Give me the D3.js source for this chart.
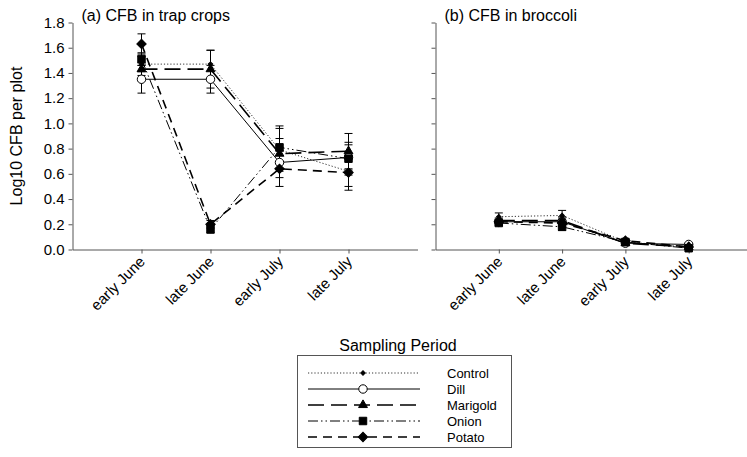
<!DOCTYPE html>
<html><head><meta charset="utf-8">
<script src="https://cdn.jsdelivr.net/npm/d3@7"></script>
<style>body{margin:0;background:#fff;}svg{display:block;font-family:Arial,"Liberation Sans",sans-serif;}</style>
</head><body><svg id="c" width="747" height="457"></svg>
<script>
const periods = ["early June", "late June", "early July", "late July"];
const seriesNames = ["Control", "Dill", "Marigold", "Onion", "Potato"];
const yTicks = [0.0, 0.2, 0.4, 0.6, 0.8, 1.0, 1.2, 1.4, 1.6, 1.8];

// (a) trap crops
const trapControl  = [1.47, 1.47, 0.79, 0.62];
const trapDill     = [1.35, 1.35, 0.69, 0.73];
const trapMarigold = [1.43, 1.43, 0.76, 0.78];
const trapOnion    = [1.51, 0.16, 0.81, 0.72];
const trapPotato   = [1.63, 0.20, 0.64, 0.61];
const trapControlErr  = [0.06, 0.11, 0.17, 0.12];
const trapDillErr     = [0.11, 0.11, 0.12, 0.10];
const trapMarigoldErr = [0.05, 0.15, 0.12, 0.14];
const trapOnionErr    = [0.05, 0.03, 0.17, 0.13];
const trapPotatoErr   = [0.08, 0.03, 0.14, 0.14];

// (b) broccoli
const brocControl  = [0.26, 0.27, 0.06, 0.02];
const brocDill     = [0.22, 0.22, 0.05, 0.04];
const brocMarigold = [0.23, 0.23, 0.05, 0.02];
const brocOnion    = [0.21, 0.18, 0.06, 0.01];
const brocPotato   = [0.22, 0.21, 0.07, 0.02];
const brocControlErr  = [0.03, 0.04, 0.01, 0.01];
const brocDillErr     = [0.02, 0.03, 0.01, 0.01];
const brocMarigoldErr = [0.02, 0.03, 0.01, 0.01];
const brocOnionErr    = [0.02, 0.03, 0.01, 0.01];
const brocPotatoErr   = [0.02, 0.03, 0.01, 0.01];

const styles = {
  Control:  {dash: "1.2,2", sym: d3.symbolSquare, size: 10, rot: 45, fill: "#000", width: 1, stroke: "#333"},
  Dill:     {dash: null, sym: d3.symbolCircle, size: 56, rot: 0, fill: "#fff", width: 1, stroke: "#000"},
  Marigold: {dash: "16,7", sym: d3.symbolTriangle, size: 34, rot: 0, fill: "#000", width: 1.6, stroke: "#000"},
  Onion:    {dash: "10,3,1.5,3,1.5,3", sym: d3.symbolSquare, size: 56, rot: 0, fill: "#000", width: 1, stroke: "#000"},
  Potato:   {dash: "9,6", sym: d3.symbolSquare, size: 44, rot: 45, fill: "#000", width: 1.6, stroke: "#000"}
};

const panels = [
  {title: "(a) CFB in trap crops", x0: 72.5, x1: 417.5, labels: true,
   data: [trapControl, trapDill, trapMarigold, trapOnion, trapPotato],
   err: [trapControlErr, trapDillErr, trapMarigoldErr, trapOnionErr, trapPotatoErr]},
  {title: "(b) CFB in broccoli", x0: 435.5, x1: 752, labels: false,
   data: [brocControl, brocDill, brocMarigold, brocOnion, brocPotato],
   err: [brocControlErr, brocDillErr, brocMarigoldErr, brocOnionErr, brocPotatoErr]}
];

const svg = d3.select("#c");
const yTop = 22.5, yBot = 249.5;
const y = d3.scaleLinear().domain([0, 1.8]).range([yBot, yTop]);
const axisColor = "#555";
const FONT = "Arial, 'Liberation Sans', sans-serif";

panels.forEach(p => {
  const x = d3.scaleLinear().domain([0, 5]).range([p.x0, p.x1]);
  const g = svg.append("g");
  const ya = g.append("g").attr("transform", `translate(${p.x0},0)`)
    .call(d3.axisLeft(y).tickValues(yTicks).tickSize(4).tickSizeOuter(0)
      .tickFormat(p.labels ? d3.format(".1f") : ""));
  ya.select(".domain").attr("stroke", axisColor);
  ya.selectAll(".tick line").attr("stroke", axisColor);
  ya.selectAll(".tick text").attr("font-size", 15).attr("fill", "#000").attr("font-family", FONT).attr("x", -8);
  const xa = g.append("g").attr("transform", `translate(0,${yBot})`)
    .call(d3.axisBottom(x).tickValues([1, 2, 3, 4]).tickSize(4).tickSizeOuter(0)
      .tickFormat(d => periods[d - 1]));
  xa.select(".domain").attr("stroke", axisColor);
  xa.selectAll(".tick line").attr("stroke", axisColor);
  xa.selectAll(".tick text").attr("font-size", 15).attr("fill", "#000")
    .attr("font-family", FONT)
    .attr("text-anchor", "end").attr("dy", null).attr("y", 0)
    .attr("transform", "translate(4,13) rotate(-45)");
  g.append("text").attr("x", p.x0 + 9).attr("y", 21).attr("font-size", 16).text(p.title);

  const line = d3.line().x((d, i) => x(i + 1)).y(d => y(d));
  seriesNames.forEach((name, si) => {
    const st = styles[name];
    const vals = p.data[si], errs = p.err[si];
    g.append("path").attr("d", line(vals)).attr("fill", "none")
      .attr("stroke", st.stroke).attr("stroke-width", st.width)
      .attr("stroke-dasharray", st.dash);
    vals.forEach((v, i) => {
      const cx = x(i + 1);
      const e = errs[i];
      g.append("line").attr("x1", cx).attr("x2", cx).attr("y1", y(v + e)).attr("y2", y(v - e)).attr("stroke", "#000").attr("stroke-width", 1);
      [v + e, v - e].forEach(ev => g.append("line").attr("x1", cx - 4).attr("x2", cx + 4).attr("y1", y(ev)).attr("y2", y(ev)).attr("stroke", "#000").attr("stroke-width", 1));
    });
  });
  seriesNames.forEach((name, si) => {
    const st = styles[name];
    p.data[si].forEach((v, i) => {
      g.append("path").attr("d", d3.symbol(st.sym, st.size)())
        .attr("transform", `translate(${x(i + 1)},${y(v)}) rotate(${st.rot})`)
        .attr("fill", st.fill).attr("stroke", "#000").attr("stroke-width", 1);
    });
  });
});

svg.append("text").attr("transform", "translate(22,136) rotate(-90)").attr("text-anchor", "middle")
  .attr("font-size", 16).text("Log10 CFB per plot");
svg.append("text").attr("x", 398).attr("y", 351).attr("text-anchor", "middle").attr("font-size", 16).text("Sampling Period");

const lg = svg.append("g");
lg.append("rect").attr("x", 297.5).attr("y", 355.5).attr("width", 214).attr("height", 92)
  .attr("fill", "#fff").attr("stroke", "#555").attr("stroke-width", 1);
seriesNames.forEach((name, i) => {
  const st = styles[name];
  const ly = 373 + i * 16;
  lg.append("line").attr("x1", 308).attr("x2", 420).attr("y1", ly).attr("y2", ly)
    .attr("stroke", st.stroke).attr("stroke-width", st.width).attr("stroke-dasharray", st.dash);
  lg.append("path").attr("d", d3.symbol(st.sym, st.size)())
    .attr("transform", `translate(363,${ly}) rotate(${st.rot})`)
    .attr("fill", st.fill).attr("stroke", "#000");
  lg.append("text").attr("x", 447).attr("y", ly + 4.5).attr("font-size", 13).text(name);
});
</script></body></html>
